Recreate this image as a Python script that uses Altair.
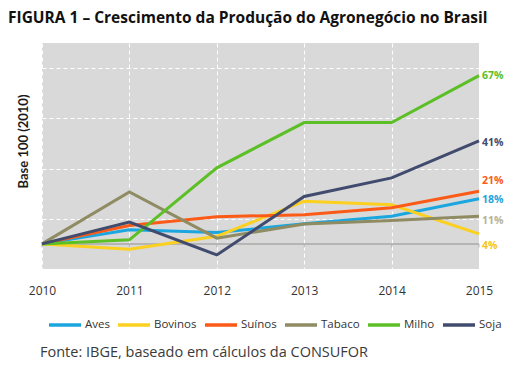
import altair as alt
import pandas as pd

years = [2010, 2011, 2012, 2013, 2014, 2015]
series = ["Aves", "Bovinos", "Suínos", "Tabaco", "Milho", "Soja"]
aves = [100, 105.6, 104.5, 108, 111, 118]
bovinos = [100, 97.9, 103, 117, 115.6, 104]
suinos = [100, 107.3, 110.8, 111.6, 114.4, 121]
tabaco = [100, 120.7, 102.3, 107.9, 109.3, 111]
milho = [100, 101.6, 130.3, 148.3, 148.3, 167]
soja = [100, 108.7, 95.6, 118.9, 126.3, 141]
end_labels = ["18%", "4%", "21%", "11%", "67%", "41%"]
colors = ["#1ba6df", "#fcd01e", "#fb5a17", "#8f8b63", "#5cbf26", "#414b6e"]
label_colors = ["#1ba6df", "#f5c518", "#fb5a17", "#b4b39a", "#5cbf26", "#414b6e"]
label_dy = [1, 12, -10, 5, 0, 2]
title = "FIGURA 1 – Crescimento da Produção do Agronegócio no Brasil"
source = "Fonte: IBGE, baseado em cálculos da CONSUFOR"

vals = [aves, bovinos, suinos, tabaco, milho, soja]
rows = []
for s, v in zip(series, vals):
    for y, val in zip(years, v):
        rows.append({"ano": y, "serie": s, "valor": val})
df = pd.DataFrame(rows)

FONT = "Open Sans"

xs = alt.X("ano:Q", scale=alt.Scale(domain=[2010, 2015], nice=False, zero=False),
           axis=alt.Axis(values=years, format="d", title=None, grid=True,
                         gridColor="white", gridDash=[4, 3], gridWidth=1,
                         ticks=False, domain=False, labelPadding=16, labelFlush=False,
                         labelFontSize=12, labelColor="#333333", labelFont=FONT))
ys = alt.Y("valor:Q", scale=alt.Scale(domain=[90, 180], nice=False, zero=False),
           axis=alt.Axis(values=list(range(90, 181, 10)), labels=False, ticks=False,
                         domain=False, grid=True, gridColor="white", gridDash=[4, 3],
                         gridWidth=1, title="Base 100 (2010)", titleFont="Lato",
                         titleFontSize=13, titleFontWeight="bold", titleColor="#1a1a1a",
                         titleAngle=270, titleX=-19, titleY=98, titleAlign="center",
                         titleBaseline="middle"))

base = alt.Chart(df)

baseline = alt.Chart(pd.DataFrame({"v": [100]})).mark_rule(color="#a8a8a8", strokeWidth=1.5).encode(
    y=alt.Y("v:Q", scale=alt.Scale(domain=[90, 180], nice=False, zero=False)))

tick_df = pd.DataFrame({"ano": years, "a": [100] * 6, "b": [98.6] * 6})
ticks = alt.Chart(tick_df).mark_rule(color="#b5b5b5", strokeWidth=1).encode(
    x="ano:Q", y="a:Q", y2="b:Q")

lines = base.mark_line(strokeWidth=3).encode(
    x=xs, y=ys,
    color=alt.Color("serie:N", scale=alt.Scale(domain=series, range=colors),
                    sort=series,
                    legend=alt.Legend(title=None, orient="none", direction="horizontal",
                                      legendX=5, legendY=264, symbolType="stroke",
                                      symbolSize=1024, symbolStrokeWidth=3.5,
                                      labelFont=FONT, labelFontSize=11.5,
                                      labelColor="#333333", labelOffset=2,
                                      columnPadding=1, symbolOffset=0,
                                      gridAlign="none", padding=0)),
)

layers = [baseline, ticks, lines]
for s, lab, c, dy, v in zip(series, end_labels, label_colors, label_dy, vals):
    ldf = pd.DataFrame({"ano": [years[-1]], "valor": [v[-1]], "lab": [lab]})
    layers.append(alt.Chart(ldf).mark_text(align="left", baseline="middle", dx=3, dy=dy,
                                           font=FONT, fontSize=10.5, fontWeight="bold",
                                           color=c).encode(
        x="ano:Q", y="valor:Q", text="lab:N"))

src = alt.Chart(pd.DataFrame({"t": [source]})).mark_text(
    align="left", baseline="middle", font=FONT, fontSize=14.5, color="#3a3a3a").encode(
    x=alt.value(-2), y=alt.value(310), text="t:N")
layers.append(src)

chart = alt.layer(*layers).properties(
    width=437, height=226,
    padding={"left": 34, "top": 35, "right": 25, "bottom": 93},
    autosize=alt.AutoSizeParams(type="none"),
    background="white",
    title=alt.TitleParams(title, anchor="start", frame="group", dx=-34, offset=17,
                          font=FONT, fontSize=15.5, fontWeight="bold", color="#111111"),
).configure_view(fill="#d9d9d9", stroke=None)

chart.save("out.html", embed_options={"renderer": "svg", "actions": False})
